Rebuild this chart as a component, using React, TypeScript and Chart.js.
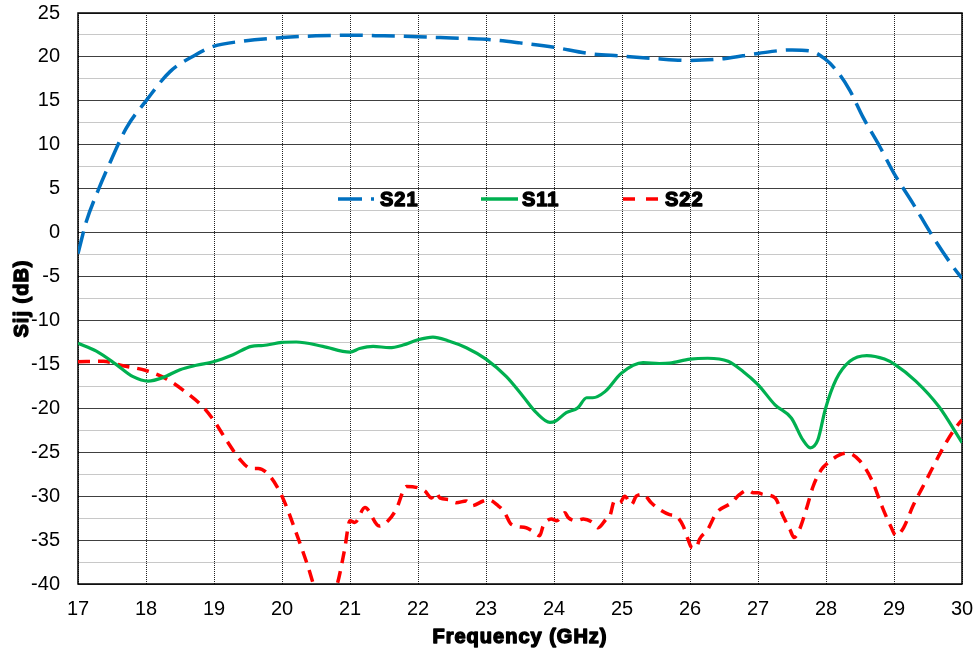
import React, { useEffect, useRef } from 'react';
import { Chart, registerables } from 'chart.js';

Chart.register(...registerables);

// ---- Data ----
const s21Freq = [17.0, 17.12, 17.29, 17.49, 17.71, 18.0, 18.35, 18.72, 18.99, 19.43, 20.0, 20.5, 21.0, 21.5, 22.0, 22.5, 23.0, 23.5, 24.0, 24.5, 25.0, 25.5, 26.0, 26.5, 27.0, 27.5, 27.76, 27.98, 28.15, 28.35, 28.54, 28.79, 29.0, 29.28, 29.57, 29.87, 30.0];
const s21Db = [-2.4, 1.2, 4.7, 8.3, 11.9, 15.0, 18.3, 20.2, 21.2, 21.8, 22.2, 22.4, 22.47, 22.4, 22.3, 22.15, 22.0, 21.6, 21.1, 20.4, 20.1, 19.8, 19.6, 19.8, 20.4, 20.8, 20.7, 19.8, 18.5, 16.2, 13.2, 9.8, 6.75, 3.3, -0.45, -3.9, -5.2];

const s11Freq = [17.0, 17.27, 17.56, 17.81, 18.03, 18.25, 18.5, 18.74, 18.99, 19.28, 19.55, 19.72, 20.0, 20.21, 20.6, 21.0, 21.14, 21.34, 21.58, 21.78, 22.0, 22.22, 22.44, 22.71, 23.0, 23.3, 23.54, 23.74, 23.94, 24.01, 24.18, 24.35, 24.48, 24.57, 24.75, 24.99, 25.31, 25.55, 25.7, 26.0, 26.26, 26.56, 26.78, 27.0, 27.25, 27.49, 27.66, 27.77, 27.88, 27.99, 28.15, 28.35, 28.6, 28.86, 29.01, 29.32, 29.66, 30.0];
const s11Db = [-12.6, -13.5, -15.0, -16.4, -16.9, -16.5, -15.6, -15.1, -14.7, -13.9, -12.95, -12.85, -12.5, -12.45, -12.95, -13.6, -13.2, -12.95, -13.1, -12.8, -12.2, -11.9, -12.3, -13.1, -14.4, -16.4, -18.6, -20.5, -21.6, -21.5, -20.5, -19.95, -18.8, -18.8, -18.1, -16.0, -14.8, -14.9, -14.85, -14.4, -14.3, -14.65, -15.8, -17.3, -19.6, -21.1, -23.6, -24.5, -23.6, -20.1, -16.7, -14.65, -14.0, -14.4, -15.0, -16.9, -19.8, -23.9];

const s22Freq = [17.0, 17.37, 17.66, 18.0, 18.3, 18.54, 18.84, 18.99, 19.18, 19.38, 19.55, 19.65, 19.82, 20.0, 20.21, 20.38, 20.5, 20.65, 20.76, 20.82, 20.92, 21.0, 21.07, 21.22, 21.43, 21.56, 21.68, 21.83, 22.0, 22.1, 22.2, 22.27, 22.32, 22.47, 22.56, 22.71, 22.79, 22.96, 23.03, 23.18, 23.27, 23.37, 23.59, 23.69, 23.79, 23.84, 23.96, 24.04, 24.16, 24.21, 24.33, 24.43, 24.57, 24.65, 24.77, 24.82, 24.89, 24.97, 25.04, 25.14, 25.21, 25.31, 25.43, 25.55, 25.7, 25.8, 25.9, 25.97, 26.02, 26.09, 26.14, 26.26, 26.39, 26.61, 26.73, 26.85, 26.93, 27.0, 27.07, 27.25, 27.37, 27.47, 27.53, 27.61, 27.71, 27.81, 27.93, 28.03, 28.2, 28.32, 28.5, 28.67, 28.82, 28.95, 29.03, 29.14, 29.28, 29.48, 29.68, 29.87, 30.0];
const s22Db = [-14.7, -14.65, -15.15, -15.7, -16.65, -17.9, -19.85, -21.3, -23.6, -25.8, -26.85, -26.85, -27.7, -30.0, -34.2, -37.95, -40.8, -42.0, -41.0, -39.8, -36.1, -32.8, -33.0, -31.3, -33.4, -32.8, -31.5, -28.9, -29.05, -29.4, -30.2, -29.6, -30.2, -30.4, -30.75, -30.55, -31.1, -30.55, -30.4, -31.1, -31.8, -33.2, -33.6, -34.0, -34.5, -33.4, -32.6, -32.8, -31.9, -32.45, -32.8, -32.6, -33.0, -33.6, -32.6, -32.3, -30.55, -30.75, -30.0, -30.95, -30.0, -29.8, -30.75, -31.5, -32.1, -32.3, -33.4, -34.9, -35.8, -35.9, -34.9, -33.8, -31.9, -30.75, -29.8, -29.3, -29.6, -29.6, -29.8, -30.2, -32.3, -33.8, -34.7, -33.8, -31.5, -28.9, -27.0, -26.2, -25.3, -25.1, -26.0, -28.1, -31.1, -33.4, -34.5, -33.6, -31.1, -28.1, -25.1, -22.6, -21.3];

const seriesNames = ['S21', 'S11', 'S22'];
const xMin = 17;
const xMax = 30;
const yMin = -40;
const yMax = 25;
const xTitle = 'Frequency (GHz)';
const yTitle = 'Sij (dB)';

const FONT = '"Liberation Sans", Arial, Helvetica, sans-serif';
const BLUE = '#0070C0';
const GREEN = '#00B050';
const RED = '#FF0000';

function pts(xs: number[], ys: number[]) {
  return xs.map((x, i) => ({ x, y: ys[i] }));
}

function heavyText(ctx: any, text: string, x: number, y: number) {
  ctx.font = `bold 20px ${FONT}`;
  try { ctx.letterSpacing = '1px'; } catch (e) { /* ignore */ }
  ctx.fillStyle = '#000';
  ctx.strokeStyle = '#000';
  ctx.lineWidth = 1.4;
  ctx.lineJoin = 'round';
  ctx.setLineDash([]);
  ctx.fillText(text, x, y);
  ctx.strokeText(text, x, y);
  try { ctx.letterSpacing = '0px'; } catch (e) { /* ignore */ }
}

export default function App() {
  const ref = useRef<HTMLCanvasElement>(null);

  useEffect(() => {
    const canvas = ref.current;
    if (!canvas) return;

    const framePlugin = {
      id: 'frame',
      beforeDatasetsDraw(chart: any) {
        const { ctx, chartArea: a } = chart;
        ctx.save();
        ctx.strokeStyle = '#000';
        ctx.lineWidth = 1.5;
        ctx.setLineDash([]);
        ctx.strokeRect(a.left, a.top, a.right - a.left, a.bottom - a.top);
        ctx.restore();
      },
    };

    const titlesPlugin = {
      id: 'heavyTitles',
      afterDraw(chart: any) {
        const { ctx, chartArea: a } = chart;
        ctx.save();
        ctx.textAlign = 'center';
        ctx.textBaseline = 'middle';
        heavyText(ctx, xTitle, (a.left + a.right) / 2, 637);
        ctx.translate(22, (a.top + a.bottom) / 2);
        ctx.rotate(-Math.PI / 2);
        heavyText(ctx, yTitle, 0, 0);
        ctx.restore();
      },
    };

    const legendPlugin = {
      id: 'inLegend',
      afterDatasetsDraw(chart: any) {
        const { ctx, chartArea: a } = chart;
        const y = a.top + 186;
        const items = [
          { x0: a.left + 260, x1: a.left + 297, color: BLUE, dash: [24, 9, 3, 9], tx: a.left + 302 },
          { x0: a.left + 403, x1: a.left + 440, color: GREEN, dash: [], tx: a.left + 444 },
          { x0: a.left + 545, x1: a.left + 580, color: RED, dash: [12, 11], tx: a.left + 587 },
        ];
        ctx.save();
        items.forEach((it, i) => {
          ctx.beginPath();
          ctx.strokeStyle = it.color;
          ctx.lineWidth = 3.5;
          ctx.lineCap = 'butt';
          ctx.setLineDash(it.dash);
          ctx.moveTo(it.x0, y);
          ctx.lineTo(it.x1, y);
          ctx.stroke();
          ctx.textAlign = 'left';
          ctx.textBaseline = 'middle';
          heavyText(ctx, seriesNames[i], it.tx, y + 1);
        });
        ctx.restore();
      },
    };

    const chart = new Chart(canvas, {
      type: 'line',
      data: {
        datasets: [
          {
            label: seriesNames[0],
            data: pts(s21Freq, s21Db),
            borderColor: BLUE,
            borderWidth: 3.5,
            borderDash: [23, 9],
            pointRadius: 0,
            cubicInterpolationMode: 'monotone',
            fill: false,
          },
          {
            label: seriesNames[1],
            data: pts(s11Freq, s11Db),
            borderColor: GREEN,
            borderWidth: 3.2,
            pointRadius: 0,
            cubicInterpolationMode: 'monotone',
            fill: false,
          },
          {
            label: seriesNames[2],
            data: pts(s22Freq, s22Db),
            borderColor: RED,
            borderWidth: 3.5,
            borderDash: [12, 8],
            pointRadius: 0,
            cubicInterpolationMode: 'monotone',
            fill: false,
          },
        ],
      },
      options: {
        responsive: false,
        animation: false,
        devicePixelRatio: 1,
        layout: { padding: { top: 13, right: 14, left: 0, bottom: 0 } },
        plugins: {
          legend: { display: false },
          tooltip: { enabled: false },
        },
        scales: {
          x: {
            type: 'linear',
            min: xMin,
            max: xMax,
            afterFit: (s: any) => { s.height = 69; s.paddingLeft = 0; s.paddingRight = 0; },
            ticks: {
              stepSize: 1,
              color: '#000',
              font: { family: FONT, size: 20 },
              padding: 13,
              maxRotation: 0,
              autoSkip: false,
            },
            grid: { color: '#222', lineWidth: 1, drawTicks: false },
            border: { display: false, dash: [1, 1] },
            title: { display: false },
          },
          y: {
            type: 'linear',
            min: yMin,
            max: yMax,
            afterFit: (s: any) => { s.width = 78; s.paddingTop = 0; s.paddingBottom = 0; },
            ticks: {
              stepSize: 2.5,
              color: '#000',
              font: { family: FONT, size: 20 },
              padding: 18,
              autoSkip: false,
              callback: (v: any) => (Math.abs(Number(v) % 5) < 1e-6 ? String(v) : ''),
            },
            grid: {
              drawTicks: false,
              lineWidth: 1,
              color: (c: any) => (c.tick && Math.abs(c.tick.value % 5) < 1e-6 ? '#404040' : '#c8c8c8'),
            },
            border: { display: false },
            title: { display: false },
          },
        },
      },
      plugins: [framePlugin, legendPlugin, titlesPlugin],
    } as any);

    return () => chart.destroy();
  }, []);

  return (
    <div style={{ position: 'absolute', left: 0, top: 0, width: 976, height: 653, background: '#fff' }}>
      <canvas ref={ref} width={976} height={653} style={{ display: 'block' }} />
    </div>
  );
}
